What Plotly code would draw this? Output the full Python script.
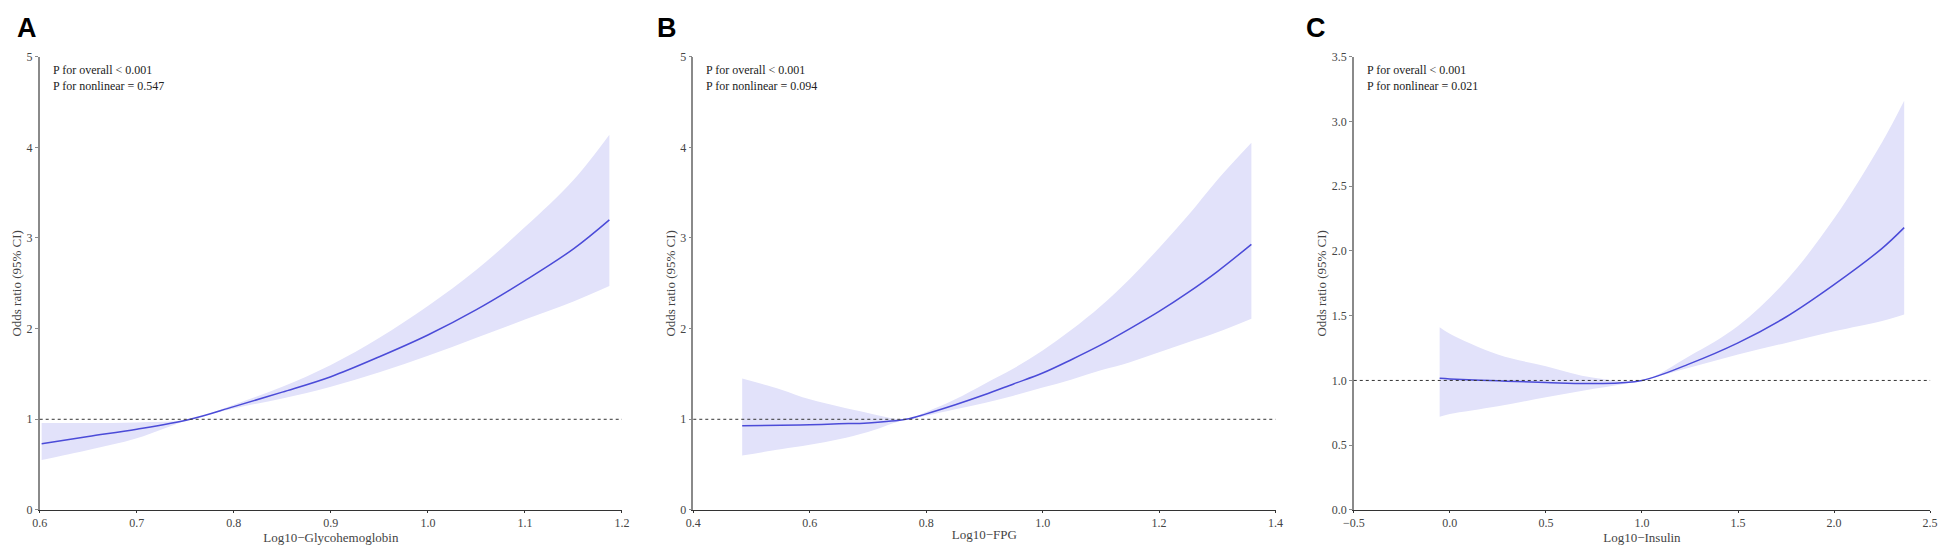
import plotly.graph_objects as go
from plotly.subplots import make_subplots

# panel A - Log10-Glycohemoglobin
hba1c_x = [0.602, 0.65, 0.70, 0.755, 0.80, 0.85, 0.90, 0.95, 1.00, 1.05, 1.10, 1.15, 1.187]
hba1c_or = [0.73, 0.81, 0.89, 1.00, 1.14, 1.30, 1.47, 1.69, 1.93, 2.21, 2.53, 2.88, 3.20]
hba1c_lo = [0.55, 0.66, 0.79, 1.00, 1.12, 1.23, 1.36, 1.52, 1.70, 1.90, 2.10, 2.30, 2.47]
hba1c_hi = [0.96, 0.96, 0.965, 1.00, 1.16, 1.36, 1.60, 1.90, 2.25, 2.65, 3.12, 3.64, 4.14]

# panel B - Log10-FPG
fpg_x = [0.484, 0.55, 0.60, 0.65, 0.70, 0.765, 0.80, 0.85, 0.90, 0.95, 1.00, 1.05, 1.10, 1.15, 1.20, 1.25, 1.30, 1.3585]
fpg_or = [0.93, 0.935, 0.94, 0.95, 0.96, 1.00, 1.06, 1.16, 1.27, 1.39, 1.51, 1.66, 1.82, 2.00, 2.19, 2.40, 2.63, 2.93]
fpg_lo = [0.60, 0.67, 0.72, 0.78, 0.86, 1.00, 1.04, 1.11, 1.18, 1.26, 1.35, 1.44, 1.54, 1.63, 1.74, 1.85, 1.96, 2.11]
fpg_hi = [1.45, 1.33, 1.22, 1.14, 1.07, 1.00, 1.08, 1.22, 1.39, 1.56, 1.76, 1.99, 2.25, 2.55, 2.89, 3.25, 3.64, 4.05]

# panel C - Log10-Insulin
ins_x = [-0.053, 0.0, 0.25, 0.50, 0.75, 1.00, 1.25, 1.50, 1.75, 2.00, 2.25, 2.365]
ins_or = [1.016, 1.012, 0.997, 0.984, 0.976, 1.00, 1.13, 1.29, 1.49, 1.74, 2.02, 2.18]
ins_lo = [0.72, 0.74, 0.80, 0.87, 0.935, 1.00, 1.10, 1.20, 1.29, 1.38, 1.46, 1.51]
ins_hi = [1.41, 1.36, 1.20, 1.11, 1.02, 1.00, 1.19, 1.42, 1.77, 2.25, 2.84, 3.16]

panels = [
    dict(x=hba1c_x, orr=hba1c_or, lo=hba1c_lo, hi=hba1c_hi, letter='A',
         xtitle='Log10\u2212Glycohemoglobin', p='P for overall < 0.001<br>P for nonlinear = 0.547',
         xrange=[0.6, 1.2], xdtick=0.1, yrange=[0, 5], ydtick=1, yfmt='d'),
    dict(x=fpg_x, orr=fpg_or, lo=fpg_lo, hi=fpg_hi, letter='B',
         xtitle='Log10\u2212FPG', p='P for overall < 0.001<br>P for nonlinear = 0.094',
         xrange=[0.4, 1.4], xdtick=0.2, yrange=[0, 5], ydtick=1, yfmt='d'),
    dict(x=ins_x, orr=ins_or, lo=ins_lo, hi=ins_hi, letter='C',
         xtitle='Log10\u2212Insulin', p='P for overall < 0.001<br>P for nonlinear = 0.021',
         xrange=[-0.5, 2.5], xdtick=0.5, yrange=[0, 3.5], ydtick=0.5, yfmt='.1f'),
]

W, H = 1949, 553
# pixel boxes of the three plot areas
x_px = [(29, 617), (689, 1277), (1356, 1938)]
y_top, y_bot = 51, 516
letter_px = [4, 650, 1306]

band = '#E2E2FA'
line_col = '#4B4BD8'
serif = 'Liberation Serif, Times New Roman, serif'

fig = make_subplots(rows=1, cols=3)

for i, p in enumerate(panels):
    c = i + 1
    fig.add_trace(go.Scatter(x=p['x'], y=p['lo'], mode='lines', line=dict(width=0, shape='spline'),
                             showlegend=False, hoverinfo='skip'), row=1, col=c)
    fig.add_trace(go.Scatter(x=p['x'], y=p['hi'], mode='lines', line=dict(width=0, shape='spline'),
                             fill='tonexty', fillcolor=band, showlegend=False, hoverinfo='skip'), row=1, col=c)
    fig.add_trace(go.Scatter(x=p['x'], y=p['orr'], mode='lines', line=dict(color=line_col, width=1.5, shape='spline'),
                             showlegend=False), row=1, col=c)

    xa = 'xaxis' if c == 1 else 'xaxis%d' % c
    ya = 'yaxis' if c == 1 else 'yaxis%d' % c
    x0, x1 = x_px[i]
    fig.layout[xa].update(
        domain=[x0 / W, x1 / W], range=p['xrange'], dtick=p['xdtick'], tick0=p['xrange'][0],
        tickformat='.1f', showgrid=False, zeroline=False, showline=True, linecolor='#333333', linewidth=1.2,
        ticks='outside', ticklen=2, tickcolor='#333333', tickfont=dict(family=serif, size=12, color='#444444'),
        title=dict(text=p['xtitle'], font=dict(family=serif, size=13, color='#444444'), standoff=0),
    )
    fig.layout[ya].update(
        domain=[1 - y_bot / H, 1 - y_top / H], range=p['yrange'], dtick=p['ydtick'], tick0=0,
        tickformat=p['yfmt'], showgrid=False, zeroline=False, showline=True, linecolor='#8a8a8a', linewidth=1.5,
        ticks='outside', ticklen=3, tickcolor='#8a8a8a', tickfont=dict(family=serif, size=12, color='#444444'),
        title=dict(text='Odds ratio (95% CI)', font=dict(family=serif, size=13, color='#444444'), standoff=2),
    )

    # reference line at OR = 1
    fig.add_shape(type='line', xref='x%d domain' % c if c > 1 else 'x domain', yref='y%d' % c if c > 1 else 'y',
                  x0=0, x1=1, y0=1, y1=1, line=dict(color='#333333', width=1, dash='dot'))

    fig.add_annotation(text=p['p'], x=(x0 + 11) / W, y=1 - 55 / H, xref='paper', yref='paper',
                       xanchor='left', yanchor='top', align='left', showarrow=False,
                       font=dict(family=serif, size=12, color='#222222'))
    fig.add_annotation(text='<b>%s</b>' % p['letter'], x=letter_px[i] / W, y=1 - 4 / H, xref='paper', yref='paper',
                       xanchor='left', yanchor='top', showarrow=False,
                       font=dict(family='Liberation Sans, Arial, sans-serif', size=27, color='#000000'))

fig.update_layout(
    width=W, height=H, margin=dict(l=0, r=0, t=0, b=0),
    plot_bgcolor='white', paper_bgcolor='white',
)

fig.write_html("out.html", config={'displayModeBar': False},
               post_script="document.body.style.margin='0';document.body.style.overflow='hidden';")
